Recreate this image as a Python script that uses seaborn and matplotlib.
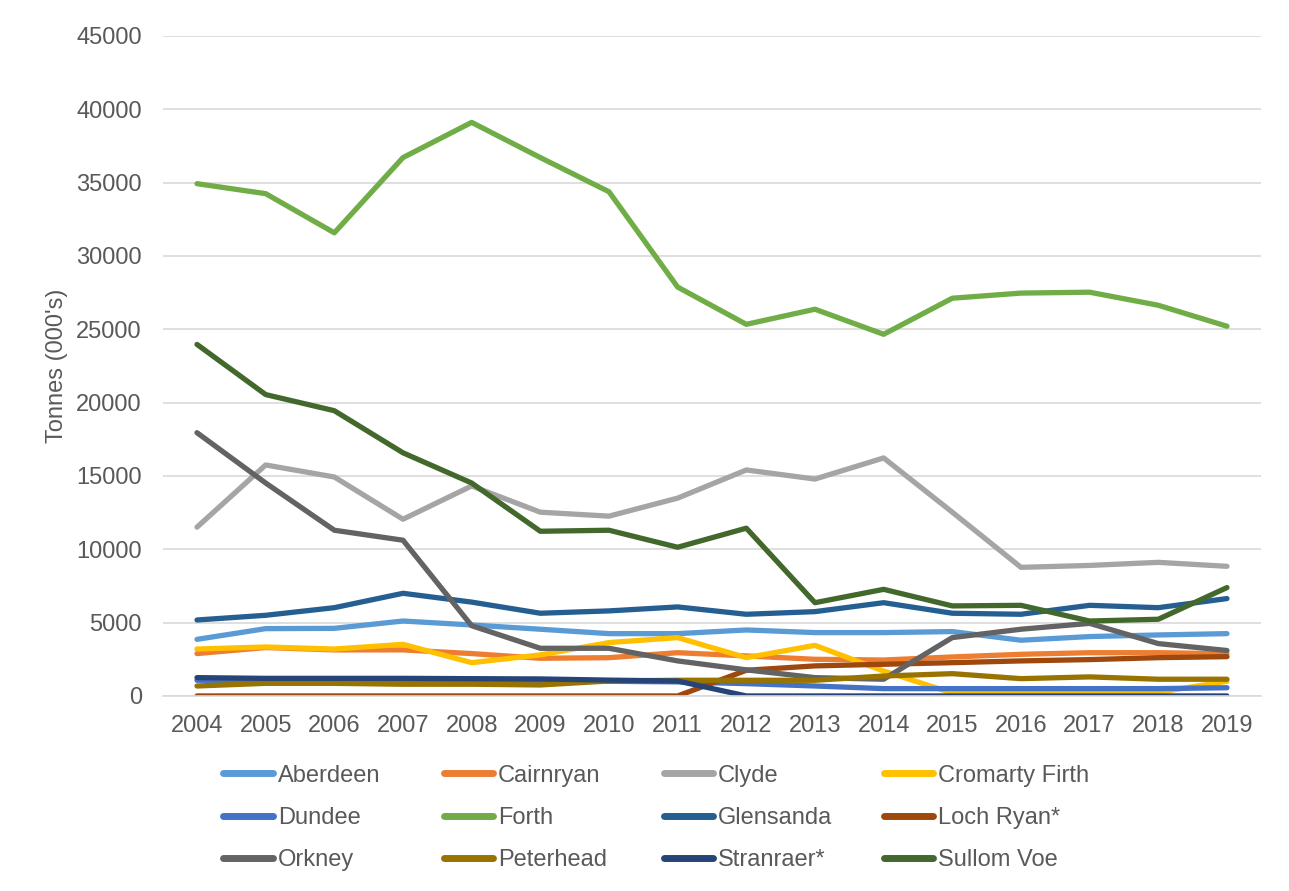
import numpy as np
import pandas as pd
import matplotlib
matplotlib.use("Agg")
import matplotlib.pyplot as plt
import seaborn as sns

years = list(range(2004, 2020))

aberdeen = [3860, 4590, 4610, 5110, 4840, 4550, 4250, 4250, 4500, 4320, 4320, 4390, 3800, 4050, 4160, 4250]
cairnryan = [2890, 3300, 3140, 3140, 2890, 2570, 2610, 2950, 2730, 2500, 2450, 2660, 2840, 2950, 2950, 2880]
clyde = [11510, 15750, 14930, 12050, 14320, 12530, 12260, 13490, 15410, 14790, 16230, 12530, 8770, 8900, 9110, 8840]
cromarty = [3200, 3340, 3200, 3520, 2270, 2800, 3640, 3980, 2610, 3450, 1700, 200, 200, 200, 250, 1000]
dundee = [1070, 1050, 1060, 1070, 1060, 1040, 1000, 960, 840, 680, 500, 500, 500, 500, 500, 560]
forth = [34930, 34250, 31580, 36710, 39110, 36710, 34380, 27880, 25340, 26370, 24660, 27120, 27470, 27530, 26640, 25210]
glensanda = [5180, 5500, 6020, 7000, 6400, 5640, 5800, 6070, 5570, 5750, 6360, 5640, 5570, 6180, 6020, 6640]
loch_ryan = [0, 0, 0, 0, 0, 0, 0, 0, 1750, 2050, 2160, 2270, 2390, 2480, 2610, 2680]
orkney = [17950, 14520, 11300, 10620, 4790, 3250, 3250, 2390, 1780, 1250, 1140, 3980, 4550, 4950, 3570, 3100]
peterhead = [680, 860, 860, 800, 800, 750, 1020, 1070, 1070, 1070, 1360, 1520, 1180, 1300, 1140, 1140]
stranraer = [1250, 1200, 1200, 1200, 1180, 1160, 1080, 1020, 0, 0, 0, 0, 0, 0, 0, 0]
sullom_voe = [23970, 20550, 19450, 16580, 14520, 11230, 11300, 10140, 11440, 6360, 7270, 6140, 6180, 5110, 5230, 7390]

series = {
    "Aberdeen": aberdeen,
    "Cairnryan": cairnryan,
    "Clyde": clyde,
    "Cromarty Firth": cromarty,
    "Dundee": dundee,
    "Forth": forth,
    "Glensanda": glensanda,
    "Loch Ryan*": loch_ryan,
    "Orkney": orkney,
    "Peterhead": peterhead,
    "Stranraer*": stranraer,
    "Sullom Voe": sullom_voe,
}
colors = ["#5B9BD5", "#ED7D31", "#A5A5A5", "#FFC000", "#4472C4", "#70AD47",
          "#255E91", "#9E480E", "#636363", "#997300", "#264478", "#43682B"]

df = pd.DataFrame(
    [(y, name, v) for name, vals in series.items() for y, v in zip(years, vals)],
    columns=["Year", "Port", "Tonnes"],
)

sns.set_theme(style="white")
plt.rcParams["font.family"] = ["Liberation Sans", "DejaVu Sans"]

fig = plt.figure(figsize=(12.89, 8.91), dpi=100)
ax = fig.add_axes([0.1262, 0.2189, 0.8523, 0.7407])

sns.lineplot(data=df, x="Year", y="Tonnes", hue="Port", hue_order=list(series.keys()),
             palette=colors, linewidth=3.8, ax=ax, legend=False,
             solid_capstyle="round", solid_joinstyle="round")

ax.set_xlim(2003.5, 2019.5)
ax.set_ylim(0, 45000)
ax.set_xticks(years)
ax.set_xticklabels([str(y) for y in years])
ax.set_yticks(range(0, 45001, 5000))
ax.yaxis.grid(True, color="#D9D9D9", linewidth=1.2)
ax.set_axisbelow(True)
for s in ["top", "right", "left"]:
    ax.spines[s].set_visible(False)
ax.spines["bottom"].set_color("#D9D9D9")
ax.spines["bottom"].set_linewidth(1.2)
ax.tick_params(axis="y", colors="#595959", labelsize=17, length=0, pad=15)
ax.tick_params(axis="x", colors="#595959", labelsize=17, length=0, pad=14)
ax.set_xlabel("")
ax.set_ylabel("Tonnes (000's)", color="#595959", fontsize=17, labelpad=6)

# legend: one block per column so the columns are evenly spaced
names = list(series.keys())
col_x = [220, 440, 660, 880]
for c in range(4):
    idx = [r * 4 + c for r in range(3)]
    handles = [plt.Line2D([0], [0], color=colors[i], linewidth=5, solid_capstyle="round") for i in idx]
    leg = fig.legend(handles, [names[i] for i in idx], loc="center left",
                     bbox_to_anchor=((col_x[c] + 3.5) / 1289, 1 - 818 / 891),
                     frameon=False, fontsize=17, handlelength=2.1, handletextpad=0.2,
                     labelspacing=0.86, borderpad=0, borderaxespad=0, labelcolor="#595959")

fig.savefig("out.png", dpi=100)
